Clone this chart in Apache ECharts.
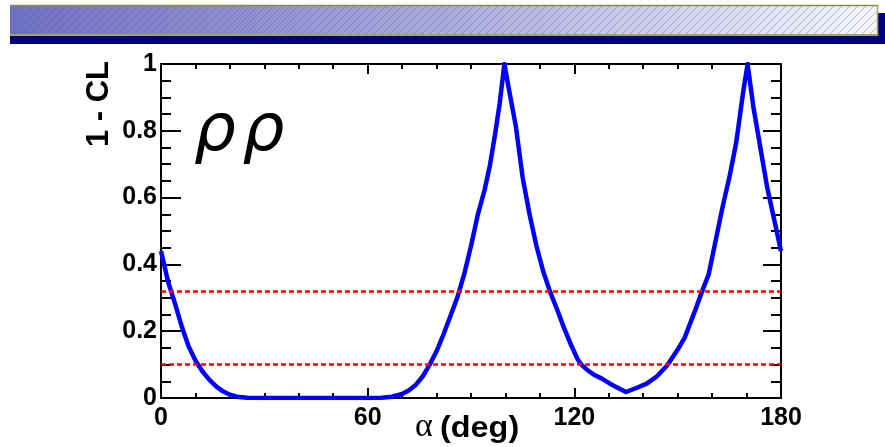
<!DOCTYPE html>
<html>
<head>
<meta charset="utf-8">
<script src="https://cdn.jsdelivr.net/npm/echarts@6/dist/echarts.min.js"></script>
<style>
  html, body { margin: 0; padding: 0; background: #ffffff; }
  #chart { width: 885px; height: 447px; }
</style>
</head>
<body>
<div id="chart"></div>
<script>
// alpha scan for the rho-rho mode: 1 - CL versus alpha
const alphaDeg = [
  0, 2, 3, 4, 6, 8, 10, 12, 14, 16, 18, 20, 22, 25, 30, 40, 50, 60,
  64, 67, 70, 72, 74, 76, 78, 80, 82, 84, 86, 88, 90, 92, 94, 95.5, 97, 98.3, 99.7,
  101, 103, 105, 107, 109, 111, 113, 115, 117, 119, 121, 122, 124, 126, 128, 130, 132, 135,
  138, 141, 144, 147, 150, 152, 155, 157, 159, 161, 163, 165, 167, 169, 170.3,
  172, 174, 176, 178, 180
];
const oneMinusCL = [
  0.44, 0.35, 0.317, 0.285, 0.215, 0.155, 0.112, 0.08, 0.055, 0.035, 0.02, 0.01, 0.004, 0.001, 0, 0, 0, 0,
  0.001, 0.004, 0.012, 0.023, 0.04, 0.065, 0.1, 0.14, 0.19, 0.245, 0.3, 0.37, 0.455, 0.55, 0.625, 0.697, 0.79, 0.88, 1.0,
  0.925, 0.815, 0.66, 0.55, 0.455, 0.378, 0.317, 0.265, 0.21, 0.16, 0.115, 0.1, 0.082, 0.068, 0.058, 0.045, 0.034, 0.018,
  0.03, 0.043, 0.065, 0.098, 0.145, 0.18, 0.26, 0.317, 0.37, 0.47, 0.57, 0.66, 0.765, 0.915, 1.0,
  0.87, 0.75, 0.63, 0.535, 0.44
];
// reference confidence levels (1 sigma and 90%)
const clLevels = [0.3173, 0.1];

const xTicks = { min: 0, max: 180, step: 60, minorSplit: 6 };
const yTicks = { min: 0, max: 1, step: 0.2, minorSplit: 4 };

const labelFont = { fontFamily: 'Liberation Sans, Arial, sans-serif', fontWeight: 'bold', fontSize: 25, color: '#000' };

// diagonal hatching used on the banner
function hatchPattern() {
  const c = document.createElement('canvas');
  c.width = 8; c.height = 8;
  const g = c.getContext('2d');
  g.strokeStyle = 'rgba(90,90,200,0.4)';
  g.lineWidth = 1;
  g.beginPath();
  g.moveTo(0, 8); g.lineTo(8, 0);
  g.moveTo(-4, 4); g.lineTo(4, -4);
  g.moveTo(4, 12); g.lineTo(12, 4);
  g.stroke();
  return c;
}

const points = alphaDeg.map((a, i) => [a, oneMinusCL[i]]);

function xAxisDef(pos, showLabel) {
  return {
    type: 'value', position: pos, min: xTicks.min, max: xTicks.max, interval: xTicks.step,
    axisLine: { show: true, onZero: false, lineStyle: { color: '#000', width: 2 } },
    axisTick: { show: true, inside: true, length: 10, lineStyle: { color: '#000', width: 2 } },
    minorTick: { show: true, splitNumber: xTicks.minorSplit, length: 5, lineStyle: { color: '#000', width: 2 } },
    splitLine: { show: false },
    axisLabel: Object.assign({ show: showLabel, margin: 8 }, labelFont)
  };
}
function yAxisDef(pos, showLabel, tickLen) {
  return {
    type: 'value', position: pos, min: yTicks.min, max: yTicks.max, interval: yTicks.step,
    axisLine: { show: true, onZero: false, lineStyle: { color: '#000', width: 2 } },
    axisTick: { show: true, inside: true, length: tickLen, lineStyle: { color: '#000', width: 2 } },
    minorTick: { show: true, splitNumber: yTicks.minorSplit, length: 10, lineStyle: { color: '#000', width: 2 } },
    splitLine: { show: false },
    axisLabel: Object.assign({ show: showLabel, margin: 4 }, labelFont)
  };
}

const chart = echarts.init(document.getElementById('chart'), null, { renderer: 'canvas' });
chart.setOption({
  animation: false,
  backgroundColor: '#ffffff',
  grid: { left: 161, right: 104, top: 64, bottom: 49, containLabel: false },
  xAxis: [xAxisDef('bottom', true), xAxisDef('top', false)],
  yAxis: [yAxisDef('left', true, 20), yAxisDef('right', false, 18)],
  series: [
    {
      type: 'line',
      data: points,
      xAxisIndex: 0, yAxisIndex: 0,
      showSymbol: false,
      lineStyle: { color: '#0000ff', width: 4.5, join: 'round' },
      z: 3,
      markLine: {
        silent: true,
        symbol: ['none', 'none'],
        label: { show: false },
        lineStyle: { color: '#ff0000', type: [5, 3], width: 2.5 },
        data: clLevels.map(v => ({ yAxis: v }))
      }
    }
  ],
  graphic: [
    // banner: navy shadow strip, shaded bar with hatching
    { type: 'rect', shape: { x: 10, y: 13, width: 875, height: 31 }, style: { fill: '#000080' }, z: 1 },
    { type: 'rect', shape: { x: 10, y: 5, width: 868, height: 31 },
      style: { fill: new echarts.graphic.LinearGradient(0, 0, 1, 0, [
        { offset: 0, color: '#7070c2' }, { offset: 0.5, color: '#aaaada' }, { offset: 1, color: '#f6f6fb' }
      ]) }, z: 2 },
    { type: 'rect', shape: { x: 10, y: 5, width: 868, height: 31 },
      style: { fill: { image: hatchPattern(), repeat: 'repeat' } }, z: 3 },
    { type: 'line', shape: { x1: 10, y1: 5.5, x2: 878, y2: 5.5 }, style: { stroke: '#8c8c48', lineWidth: 1.5 }, z: 4 },
    { type: 'line', shape: { x1: 10, y1: 35, x2: 878, y2: 35 }, style: { stroke: '#a6a664', lineWidth: 2 }, z: 4 },
    { type: 'line', shape: { x1: 877.5, y1: 5, x2: 877.5, y2: 36 }, style: { stroke: '#a6a664', lineWidth: 1.5 }, z: 4 },
    // axis titles
    { type: 'text', x: 99, y: 104, rotation: Math.PI / 2,
      style: { text: '1 - CL', fontFamily: 'Liberation Sans, Arial, sans-serif', fontWeight: 'bold', fontSize: 31,
               fill: '#000', align: 'center', verticalAlign: 'middle' } },
    { type: 'text', x: 415, y: 427,
      style: { text: 'α', fontFamily: 'Liberation Serif, serif', fontSize: 34, fill: '#000',
               align: 'left', verticalAlign: 'middle' } },
    { type: 'text', x: 440, y: 429, scaleX: 1.08,
      style: { text: '(deg)', fontFamily: 'Liberation Sans, Arial, sans-serif', fontWeight: 'bold', fontSize: 30,
               fill: '#000', align: 'left', verticalAlign: 'middle' } },
    // decay mode label
    { type: 'text', x: 194, y: 133,
      style: { text: 'ρ\u200Aρ', fontFamily: 'DejaVu Sans, sans-serif', fontStyle: 'italic', fontSize: 66,
               fill: '#000', align: 'left', verticalAlign: 'middle' } }
  ]
});
</script>
</body>
</html>
